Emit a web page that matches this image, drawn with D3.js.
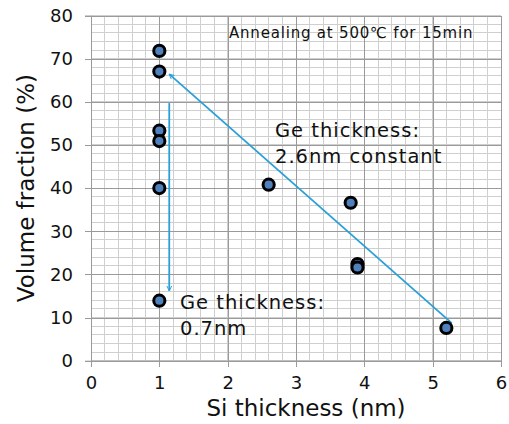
<!DOCTYPE html>
<html>
<head>
<meta charset="utf-8">
<script src="https://cdn.jsdelivr.net/npm/d3@7"></script>
<style>
  body { margin: 0; background: #fff; }
  svg { display: block; font-family: "DejaVu Sans", Verdana, sans-serif; }
</style>
</head>
<body>
<div id="chart"></div>
<script>
// measured points (Si thickness nm, volume fraction %)
const siThickness = [1, 1, 1, 1, 1, 1, 2.6, 3.8, 3.9, 3.9, 5.2];
const volFraction = [71.8, 67, 53.3, 50.9, 40, 13.9, 40.8, 36.6, 22.4, 21.6, 7.6];

const xTicks = [0, 1, 2, 3, 4, 5, 6];
const yTicks = [0, 10, 20, 30, 40, 50, 60, 70, 80];

// arrows in data coords [x1, y1, x2, y2], head at (x2, y2)
const arrows = [
    [1.145, 59.7, 1.145, 16.2],
    [5.28, 8.7, 1.145, 66.4]
];

const width = 509;
const height = 424;
const marginLeft = 91;
const marginRight = 8;
const marginTop = 15.5;
const marginBottom = 63.3;

const x = d3.scaleLinear().domain([0, 6]).range([marginLeft, width - marginRight]);
const y = d3.scaleLinear().domain([0, 80]).range([height - marginBottom, marginTop]);

const svg = d3.select("#chart").append("svg")
    .attr("width", width)
    .attr("height", height);

svg.append("defs").append("marker")
    .attr("id", "head")
    .attr("viewBox", "0 0 10 10")
    .attr("refX", 9)
    .attr("refY", 5)
    .attr("markerWidth", 6)
    .attr("markerHeight", 6)
    .attr("markerUnits", "userSpaceOnUse")
    .attr("orient", "auto")
    .append("path")
    .attr("d", "M1,1L9,5L1,9")
    .attr("fill", "none")
    .attr("stroke", "#2a9fd8")
    .attr("stroke-width", 1.6);

//minor grid first, then major on top
const xMinor = d3.range(0, 6.001, 0.2);
const yMinor = d3.range(0, 80.001, 2);
const grid = svg.append("g").attr("shape-rendering", "crispEdges");
grid.selectAll(".vx")
    .data(xMinor)
    .join("line")
    .attr("x1", d => x(d)).attr("x2", d => x(d))
    .attr("y1", y(0)).attr("y2", y(80))
    .attr("stroke", "#cfcfcf");
grid.selectAll(".hy")
    .data(yMinor)
    .join("line")
    .attr("x1", x(0)).attr("x2", x(6))
    .attr("y1", d => y(d)).attr("y2", d => y(d))
    .attr("stroke", "#cfcfcf");

const xAxis = svg.append("g")
    .attr("transform", `translate(0,${y(0)})`)
    .call(d3.axisBottom(x).tickValues(xTicks).tickSize(6).tickPadding(10).tickFormat(d3.format("d")));
xAxis.selectAll(".tick line").clone()
    .attr("y2", -(y(0) - y(80)));

const yAxis = svg.append("g")
    .attr("transform", `translate(${x(0)},0)`)
    .call(d3.axisLeft(y).tickValues(yTicks).tickSize(6).tickPadding(12));
yAxis.selectAll(".tick line").clone()
    .attr("x2", x(6) - x(0));

svg.selectAll(".domain").attr("stroke", "#9a9a9a");
svg.selectAll(".tick line").attr("stroke", "#9a9a9a").attr("shape-rendering", "crispEdges");
svg.selectAll(".tick text")
    .attr("fill", "#111")
    .attr("font-family", "DejaVu Sans, sans-serif")
    .attr("font-size", 18);

//axis titles
svg.append("text")
    .attr("x", 306)
    .attr("y", 416)
    .attr("text-anchor", "middle")
    .attr("font-size", 23)
    .attr("fill", "#111")
    .text("Si thickness (nm)");

svg.append("text")
    .attr("transform", `translate(34,${(y(0) + y(80)) / 2}) rotate(-90)`)
    .attr("text-anchor", "middle")
    .attr("font-size", 23)
    .attr("fill", "#111")
    .text("Volume fraction (%)");

//arrows
svg.append("g")
    .selectAll("line")
    .data(arrows)
    .join("line")
    .attr("x1", d => x(d[0])).attr("y1", d => y(d[1]))
    .attr("x2", d => x(d[2])).attr("y2", d => y(d[3]))
    .attr("stroke", "#2a9fd8")
    .attr("stroke-width", 1.8)
    .attr("marker-end", "url(#head)");

//points
svg.append("g")
    .selectAll("circle")
    .data(siThickness)
    .join("circle")
    .attr("cx", d => x(d))
    .attr("cy", (d, i) => y(volFraction[i]))
    .attr("r", 5.6)
    .attr("fill", "#4f81bd")
    .attr("stroke", "#000")
    .attr("stroke-width", 3);

//annotations
svg.append("text")
    .attr("x", 229).attr("y", 38)
    .attr("font-size", 15)
    .attr("letter-spacing", 0.8)
    .attr("fill", "#111")
    .text("Annealing at 500\u2103 for 15min");

const note = svg.append("g")
    .attr("font-size", 19.5)
    .attr("letter-spacing", 1)
    .attr("fill", "#111");
note.append("text").attr("x", 275).attr("y", 137).text("Ge thickness:");
note.append("text").attr("x", 275).attr("y", 163).text("2.6nm constant");
note.append("text").attr("x", 180).attr("y", 309).text("Ge thickness:");
note.append("text").attr("x", 180).attr("y", 335).text("0.7nm");
</script>
</body>
</html>
